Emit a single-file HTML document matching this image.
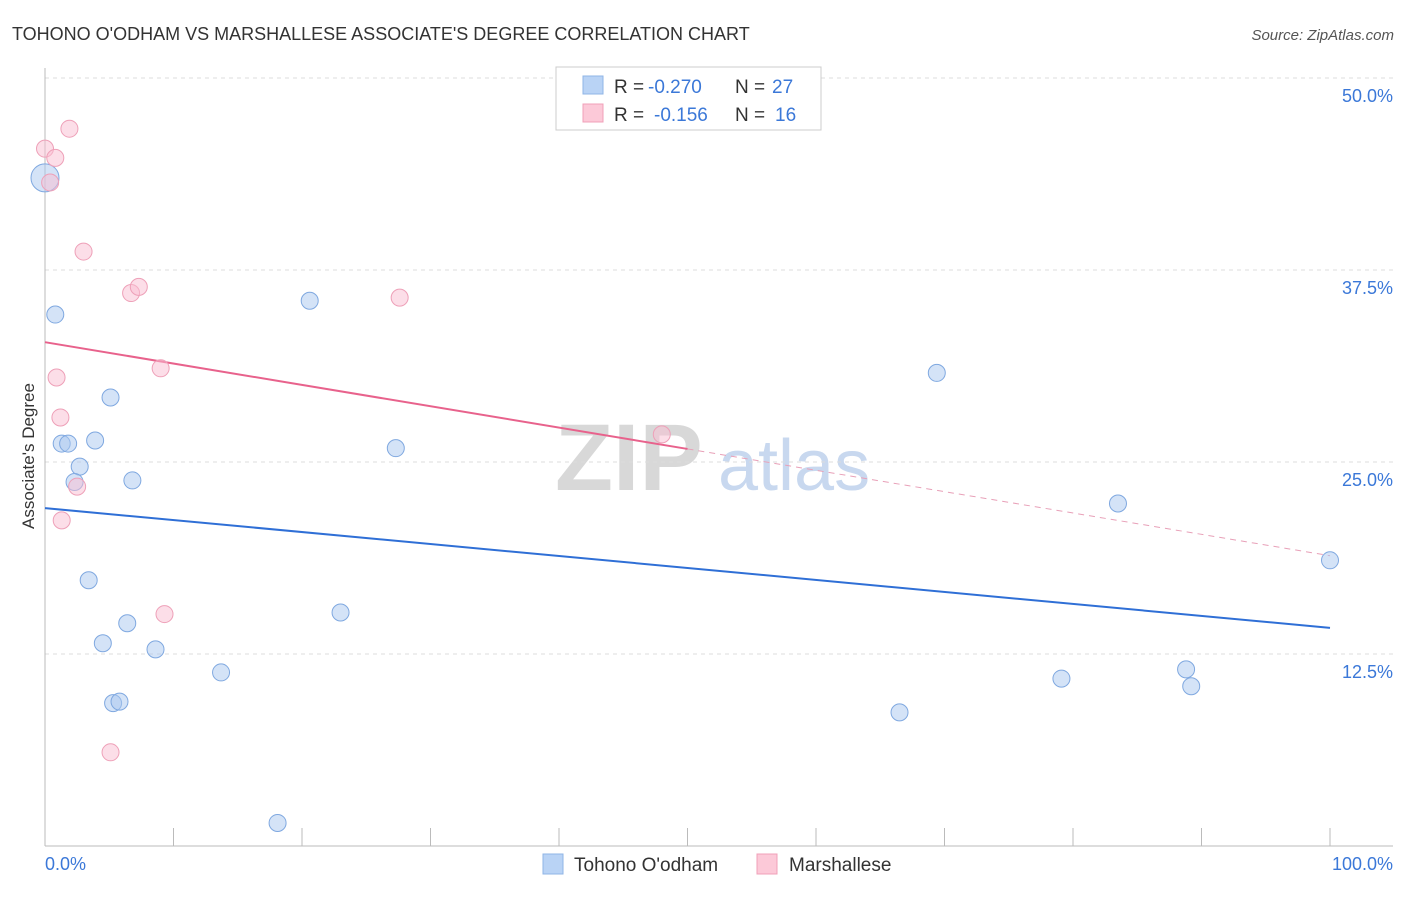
<!DOCTYPE html>
<html><head><meta charset="utf-8"><style>
body{margin:0;background:#fff;font-family:"Liberation Sans",sans-serif;}
svg text{font-family:"Liberation Sans",sans-serif;}
</style></head><body>
<svg id="chart" width="1406" height="892" viewBox="0 0 1406 892" xmlns="http://www.w3.org/2000/svg">
<text x="12" y="40" font-size="18" fill="#333">TOHONO O'ODHAM VS MARSHALLESE ASSOCIATE'S DEGREE CORRELATION CHART</text>
<text x="1394" y="40" font-size="15" fill="#555" text-anchor="end" font-style="italic">Source: ZipAtlas.com</text>
<g>
<text x="555" y="490" font-size="95" font-family="Liberation Serif" fill="#d8d8d8" font-weight="bold">ZIP</text>
<text x="718" y="490" font-size="72" fill="#c8d8ef">atlas</text>
</g>
<g id="grid"></g>
<g id="axes"></g>
<g id="lines"></g>
<g id="points"></g>
<text transform="translate(34,456) rotate(-90)" font-size="17" fill="#333" text-anchor="middle">Associate's Degree</text>
<g>
<rect x="556" y="67" width="265" height="63" fill="#fff" stroke="#ccc"/>
<rect x="583" y="76" width="20" height="18" fill="#b9d3f5" stroke="#8fb4e6"/>
<rect x="583" y="104" width="20" height="18" fill="#fcc9d8" stroke="#f0a0b8"/>
<text x="614" y="93" font-size="19" fill="#333">R =</text>
<text x="648" y="93" font-size="19" fill="#3b78d8">-0.270</text>
<text x="735" y="93" font-size="19" fill="#333">N =</text>
<text x="772" y="93" font-size="19" fill="#3b78d8">27</text>
<text x="614" y="121" font-size="19" fill="#333">R =</text>
<text x="654" y="121" font-size="19" fill="#3b78d8">-0.156</text>
<text x="735" y="121" font-size="19" fill="#333">N =</text>
<text x="775" y="121" font-size="19" fill="#3b78d8">16</text>
</g>
<g>
<rect x="543" y="854" width="20" height="20" fill="#b9d3f5" stroke="#8fb4e6"/>
<text x="574" y="871" font-size="19" fill="#333">Tohono O'odham</text>
<rect x="757" y="854" width="20" height="20" fill="#fcc9d8" stroke="#f0a0b8"/>
<text x="789" y="871" font-size="19" fill="#333">Marshallese</text>
</g>
</svg>
<script>
const yTicks=[12.5,25,37.5,50];
const yTickLabels=["12.5%","25.0%","37.5%","50.0%"];
const blueX=[0,0.8,20.6,5.1,1.3,1.8,3.9,2.7,2.3,6.8,27.3,69.4,83.5,100,3.4,23.0,6.4,4.5,8.6,13.7,5.3,5.8,79.1,88.8,89.2,66.5,18.1];
const blueY=[43.5,34.6,35.5,29.2,26.2,26.2,26.4,24.7,23.7,23.8,25.9,30.8,22.3,18.6,17.3,15.2,14.5,13.2,12.8,11.3,9.3,9.4,10.9,11.5,10.4,8.7,1.5];
const pinkX=[0,1.9,0.8,0.4,3.0,6.7,7.3,27.6,9.0,0.9,1.2,1.3,2.5,48.0,9.3,5.1];
const pinkY=[45.4,46.7,44.8,43.2,38.7,36.0,36.4,35.7,31.1,30.5,27.9,21.2,23.4,26.8,15.1,6.1];
const blueLine=[22.0,14.2];
const pinkLine=[32.8,18.9];
const pinkSolidEnd=50;
const NS="http://www.w3.org/2000/svg";
const X=v=>45+v*12.85, Y=v=>846-v*15.36;
function mk(t,a,p){const e=document.createElementNS(NS,t);for(const k in a)e.setAttribute(k,a[k]);p.appendChild(e);return e;}
const grid=document.getElementById('grid'),axes=document.getElementById('axes'),lines=document.getElementById('lines'),pts=document.getElementById('points');
yTicks.forEach((t,i)=>{
 const l=mk('line',{x1:45,x2:1393,y1:Y(t),y2:Y(t),stroke:'#ddd','stroke-dasharray':'4,4'},grid);
 
 
 const tx=mk('text',{x:1393,y:Y(t)+24,'font-size':18,fill:'#3b78d8','text-anchor':'end'},axes);
 tx.textContent=yTickLabels[i];
 
 
});
mk('line',{x1:45,x2:45,y1:68,y2:846,stroke:'#bbb'},axes);
mk('line',{x1:45,x2:1393,y1:846,y2:846,stroke:'#bbb'},axes);
for(let i=0;i<=10;i++){const tk=mk('line',{x1:X(i*10),x2:X(i*10),y1:828,y2:846,stroke:'#bbb'},axes);
 
 }
const x0=mk('text',{x:45,y:870,'font-size':18,fill:'#3b78d8'},axes);x0.textContent='0.0%';
const x1=mk('text',{x:1393,y:870,'font-size':18,fill:'#3b78d8','text-anchor':'end'},axes);x1.textContent='100.0%';
const bl=mk('line',{x1:X(0),y1:Y(blueLine[0]),x2:X(100),y2:Y(blueLine[1]),stroke:'#2f6fd6','stroke-width':2},lines);


const pm=pinkLine[0]+(pinkLine[1]-pinkLine[0])*pinkSolidEnd/100;
const pl=mk('line',{x1:X(0),y1:Y(pinkLine[0]),x2:X(pinkSolidEnd),y2:Y(pm),stroke:'#e8628c','stroke-width':2},lines);


const pd=mk('line',{x1:X(pinkSolidEnd),y1:Y(pm),x2:X(100),y2:Y(pinkLine[1]),stroke:'#e8a0b8','stroke-width':1,'stroke-dasharray':'6,5'},lines);


blueX.forEach((v,i)=>{const c=mk('circle',{cx:X(v),cy:Y(blueY[i]),r:i==0?14:8.5,fill:'rgba(170,200,240,0.5)',stroke:'#7fa8e0'},pts);
 
 });
pinkX.forEach((v,i)=>{const c=mk('circle',{cx:X(v),cy:Y(pinkY[i]),r:8.5,fill:'rgba(250,190,210,0.5)',stroke:'#eea0b8'},pts);
 
 });
</script>
</body></html>
